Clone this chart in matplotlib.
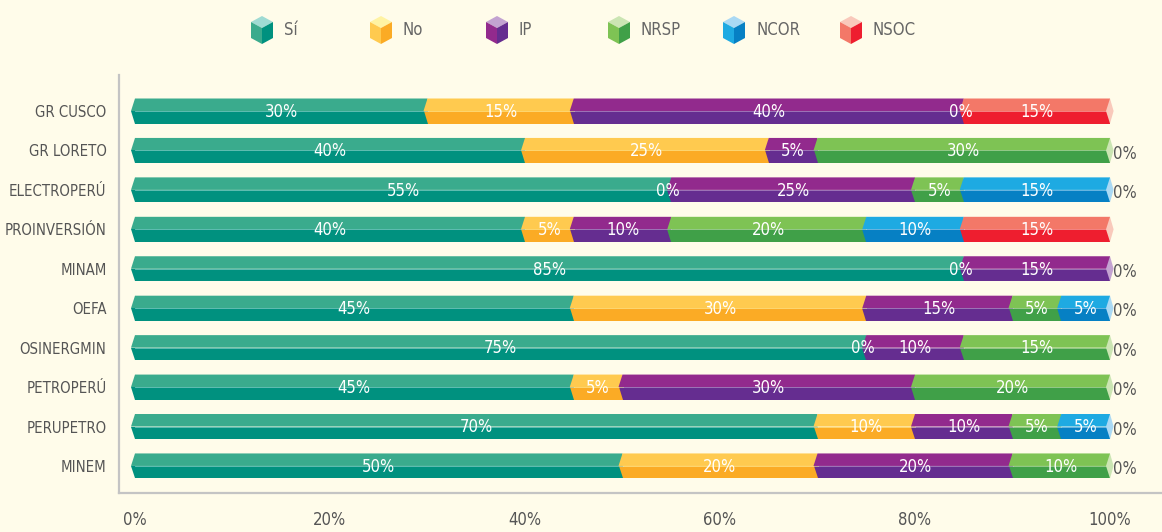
import numpy as np
import matplotlib.pyplot as plt
from matplotlib.patches import Polygon

plt.rcParams['font.family'] = ['DejaVu Sans']
plt.rcParams['font.stretch'] = 'condensed'

categories = ['GR CUSCO', 'GR LORETO', 'ELECTROPERÚ', 'PROINVERSIÓN', 'MINAM',
              'OEFA', 'OSINERGMIN', 'PETROPERÚ', 'PERUPETRO', 'MINEM']
series = ['Sí', 'No', 'IP', 'NRSP', 'NCOR', 'NSOC']
nan = np.nan
# percentages per series (nan = not shown)
si = [30, 40, 55, 40, 85, 45, 75, 45, 70, 50]
no = [15, 25, 0, 5, 0, 30, 0, 5, 10, 20]
ip = [40, 5, 25, 10, 15, 15, 10, 30, 10, 20]
nrsp = [0, 30, 5, 20, 0, 5, 15, 20, 5, 10]
ncor = [nan, 0, 15, 10, nan, 5, 0, 0, 5, 0]
nsoc = [15, nan, 0, 15, nan, 0, nan, nan, 0, nan]
values = [si, no, ip, nrsp, ncor, nsoc]

# (light top face, front top half, front bottom half)
colors = [('#9fdbd3', '#3aab8d', '#00917f'),
          ('#fff3a3', '#ffca4f', '#fbab25'),
          ('#c3a3d1', '#922a8d', '#652d90'),
          ('#cbe5b3', '#7ec354', '#40a048'),
          ('#aad9f4', '#1eaae2', '#0680c4'),
          ('#f9c9bb', '#f37868', '#ee1e2f')]

bg = '#fffcea'
W, H = 1162, 532
fig = plt.figure(figsize=(W / 100, H / 100), dpi=100, facecolor=bg)
ax = fig.add_axes([119 / W, 1 - 493 / H, 1 - 119 / W, 418 / H])
ax.set_facecolor(bg)

px = 9.75  # pixels per percent
ax.set_xlim(-(135 - 119) / px, 100 + (W - 1110) / px)
ax.set_ylim(9.686, -0.913)
d = 4 / px
hh = 0.317

for i, name in enumerate(categories):
    left = 0.0
    last = None
    for k in range(len(series)):
        v = values[k][i]
        if np.isnan(v):
            continue
        light, top, bot = colors[k]
        a, b = left, left + v
        if v > 0:
            ax.add_patch(Polygon([(a - d, i), (a, i - hh), (b, i - hh), (b, i)],
                                 closed=True, fc=top, ec='none', zorder=2))
            ax.add_patch(Polygon([(a - d, i), (b, i), (b, i + hh), (a, i + hh)],
                                 closed=True, fc=bot, ec='none', zorder=2))
            ax.plot([a, b], [i, i], color=light, lw=0.6, alpha=0.7, zorder=3)
            ax.text((a + b) / 2, i + 0.02, f'{v:.0f}%', color='white', fontsize=12,
                    ha='center', va='center', zorder=5)
            last = k
        elif b < 99.9:
            ax.text(a - 0.3, i + 0.02, '0%', color='white', fontsize=12,
                    ha='center', va='center', zorder=5)
        else:
            ax.text(b + 0.35, i + 0.08, '0%', color='#555555', fontsize=12,
                    ha='left', va='center', zorder=5)
        left = b
    if last is not None:
        ax.add_patch(Polygon([(left - d, i), (left, i - hh), (left + d * 0.9, i), (left, i + hh)],
                             closed=True, fc=colors[last][0], ec='none', zorder=4))

for s in ['top', 'right']:
    ax.spines[s].set_visible(False)
for s in ['left', 'bottom']:
    ax.spines[s].set_color('#c4c4c4')
    ax.spines[s].set_linewidth(1.6)

ax.set_xticks(range(0, 101, 20), [f'{t}%' for t in range(0, 101, 20)])
ax.set_yticks(range(len(categories)), categories)
ax.tick_params(axis='x', length=0, pad=13, labelsize=12, labelcolor='#555555')
ax.tick_params(axis='y', length=0, pad=9, labelsize=10.7, labelcolor='#555555')

# legend with cube icons
lg = fig.add_axes([0, 0, 1, 1])
lg.set_xlim(0, W)
lg.set_ylim(H, 0)
lg.axis('off')
cube_x = [262, 381, 497, 619, 734, 851]
for k, name in enumerate(series):
    cx = cube_x[k]
    light, top, bot = colors[k]
    w, t0, t1, y2 = 11, 16, 22, 44
    lg.add_patch(Polygon([(cx, t0), (cx + w, t1), (cx, t1 + 6), (cx - w, t1)], fc=light, ec='none'))
    lg.add_patch(Polygon([(cx - w, t1), (cx, t1 + 6), (cx, y2), (cx - w, y2 - 6)], fc=top, ec='none'))
    lg.add_patch(Polygon([(cx, t1 + 6), (cx + w, t1), (cx + w, y2 - 6), (cx, y2)], fc=bot, ec='none'))
    lg.text(cx + 22, 30, name, color='#666666', fontsize=12, ha='left', va='center')

fig.savefig('out.png', dpi=100, facecolor=bg)
